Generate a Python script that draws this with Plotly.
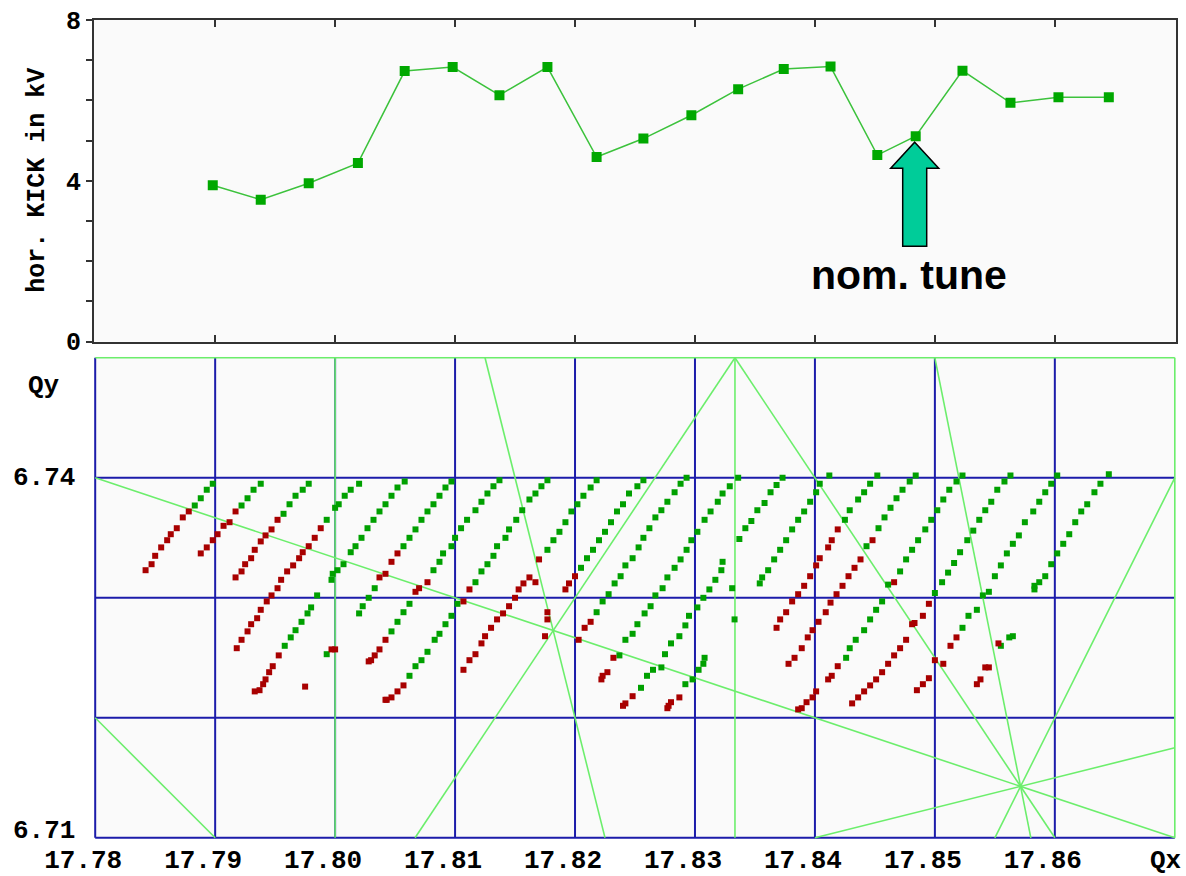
import plotly.graph_objects as go

# ---------------- top panel: horizontal kick per nominal Qx ----------------
kick_qx = [17.7898, 17.7938, 17.7978, 17.8019, 17.8058, 17.8098, 17.8137, 17.8177, 17.8218, 17.8257,
           17.8297, 17.8336, 17.8374, 17.8413, 17.8452, 17.8484, 17.8523, 17.8563, 17.8603, 17.8645]
kick_kv = [3.89, 3.53, 3.94, 4.44, 6.73, 6.83, 6.13, 6.83, 4.59, 5.05,
           5.63, 6.28, 6.78, 6.84, 4.64, 5.11, 6.74, 5.94, 6.08, 6.08]
nominal_index = 15

# ---------------- bottom panel: measured tunes (green = kept, red = lost) ----------------
green_qx = [
    17.7898, 17.7893, 17.7888, 17.7883,
    17.7938, 17.7932, 17.7927, 17.7922,
    17.7978, 17.7973, 17.7967, 17.7962, 17.7957,
    17.8020, 17.8013, 17.8008, 17.8003, 17.8000, 17.7993,
    17.8058, 17.8052, 17.8047, 17.8042, 17.8037, 17.8032, 17.8027, 17.8022, 17.8017, 17.8013, 17.8007,
    17.8002, 17.7998, 17.7997, 17.7985, 17.7980, 17.7977, 17.7972, 17.7967, 17.7963, 17.7958,
    17.8097, 17.8092, 17.8087, 17.8082, 17.8077, 17.8072, 17.8067, 17.8062, 17.8057,
    17.8033, 17.8028, 17.8023, 17.8020, 17.7993,
    17.8137, 17.8132, 17.8127, 17.8122, 17.8117, 17.8110, 17.8105, 17.8100, 17.8097, 17.8090, 17.8087, 17.8082,
    17.8062, 17.8057, 17.8052, 17.8047,
    17.8177, 17.8172, 17.8167, 17.8162, 17.8156, 17.8151, 17.8145, 17.8142, 17.8135, 17.8132, 17.8127, 17.8122, 17.8117,
    17.8102, 17.8097, 17.8092, 17.8087, 17.8083, 17.8077, 17.8072, 17.8067, 17.8062,
    17.8218, 17.8213, 17.8207, 17.8202, 17.8197, 17.8192, 17.8187, 17.8182, 17.8177,
    17.8257, 17.8252, 17.8245, 17.8240, 17.8235, 17.8230, 17.8225, 17.8220, 17.8215, 17.8210, 17.8205,
    17.8293, 17.8288, 17.8283, 17.8277, 17.8272, 17.8267, 17.8262, 17.8257, 17.8253, 17.8248, 17.8242, 17.8238,
    17.8233, 17.8228, 17.8223, 17.8218,
    17.8336, 17.8329, 17.8323, 17.8319, 17.8313, 17.8308, 17.8302, 17.8297, 17.8293, 17.8288, 17.8283, 17.8277,
    17.8273, 17.8267, 17.8263, 17.8258, 17.8252, 17.8248, 17.8242, 17.8237,
    17.8373, 17.8368, 17.8363, 17.8358, 17.8352, 17.8347, 17.8342, 17.8337, 17.8323, 17.8322, 17.8317, 17.8312,
    17.8307, 17.8302, 17.8295, 17.8292, 17.8287, 17.8280, 17.8275, 17.8272, 17.8265, 17.8260, 17.8255,
    17.8412, 17.8404, 17.8401, 17.8396, 17.8391, 17.8386, 17.8381, 17.8376, 17.8371, 17.8366, 17.8361, 17.8356,
    17.8354, 17.8331, 17.8333, 17.8308, 17.8307, 17.8303, 17.8298, 17.8292,
    17.8452, 17.8446, 17.8441, 17.8436, 17.8429, 17.8425,
    17.8484, 17.8479, 17.8473, 17.8468, 17.8463, 17.8458, 17.8453, 17.8443,
    17.8523, 17.8518, 17.8512, 17.8507, 17.8502, 17.8497, 17.8492, 17.8486, 17.8481, 17.8476, 17.8471,
    17.8461, 17.8456, 17.8451, 17.8446, 17.8441, 17.8434, 17.8429, 17.8426,
    17.8563, 17.8558, 17.8552, 17.8547, 17.8542, 17.8537, 17.8532, 17.8527, 17.8521, 17.8516, 17.8511, 17.8506, 17.8500,
    17.8602, 17.8597, 17.8592, 17.8587, 17.8582, 17.8575, 17.8570, 17.8565, 17.8560, 17.8555, 17.8550, 17.8545,
    17.8540, 17.8535, 17.8528, 17.8523,
    17.8645, 17.8638, 17.8633, 17.8627, 17.8622, 17.8617, 17.8612, 17.8607, 17.8602, 17.8597, 17.8592, 17.8587,
    17.8583, 17.8583, 17.8565, 17.8562, 17.8555,
]
green_qy = [
    6.7395, 6.7390, 6.7383, 6.7377,
    6.7395, 6.7390, 6.7383, 6.7377,
    6.7395, 6.7390, 6.7385, 6.7378, 6.7370,
    6.7395, 6.7390, 6.7385, 6.7378, 6.7375, 6.7365,
    6.7397, 6.7392, 6.7385, 6.7378, 6.7372, 6.7365, 6.7358, 6.7350, 6.7343, 6.7338, 6.7328,
    6.7323, 6.7320, 6.7315, 6.7302, 6.7292, 6.7287, 6.7280, 6.7273, 6.7267, 6.7260,
    6.7397, 6.7392, 6.7385, 6.7378, 6.7372, 6.7365, 6.7357, 6.7350, 6.7343,
    6.7308, 6.7300, 6.7293, 6.7287, 6.7253,
    6.7398, 6.7393, 6.7387, 6.7380, 6.7373, 6.7365, 6.7358, 6.7350, 6.7343, 6.7337, 6.7330, 6.7323,
    6.7295, 6.7288, 6.7280, 6.7272,
    6.7398, 6.7393, 6.7387, 6.7382, 6.7373, 6.7365, 6.7357, 6.7350, 6.7343, 6.7335, 6.7328, 6.7322, 6.7313,
    6.7295, 6.7285, 6.7278, 6.7270, 6.7265, 6.7255, 6.7248, 6.7243, 6.7235,
    6.7398, 6.7392, 6.7385, 6.7378, 6.7372, 6.7363, 6.7355, 6.7348, 6.7340,
    6.7398, 6.7393, 6.7387, 6.7378, 6.7372, 6.7363, 6.7355, 6.7348, 6.7340, 6.7333, 6.7325,
    6.7400, 6.7395, 6.7388, 6.7380, 6.7373, 6.7367, 6.7358, 6.7350, 6.7342, 6.7333, 6.7327, 6.7318,
    6.7312, 6.7303, 6.7297, 6.7288,
    6.7400, 6.7393, 6.7387, 6.7380, 6.7372, 6.7365, 6.7355, 6.7348, 6.7340, 6.7332, 6.7325, 6.7317,
    6.7308, 6.7302, 6.7293, 6.7287, 6.7278, 6.7270, 6.7265, 6.7252,
    6.7400, 6.7394, 6.7388, 6.7379, 6.7373, 6.7364, 6.7358, 6.7349, 6.7330, 6.7323, 6.7315, 6.7307,
    6.7300, 6.7292, 6.7285, 6.7277, 6.7268, 6.7262, 6.7253, 6.7242, 6.7240, 6.7235, 6.7225,
    6.7402, 6.7395, 6.7388, 6.7380, 6.7372, 6.7365, 6.7357, 6.7348, 6.7340, 6.7332, 6.7323, 6.7317,
    6.7312, 6.7308, 6.7282, 6.7250, 6.7245, 6.7240, 6.7232, 6.7228,
    6.7402, 6.7395, 6.7388, 6.7382, 6.7373, 6.7365,
    6.7402, 6.7397, 6.7390, 6.7383, 6.7375, 6.7367, 6.7358, 6.7343,
    6.7402, 6.7397, 6.7390, 6.7382, 6.7373, 6.7365, 6.7357, 6.7348, 6.7340, 6.7332, 6.7322,
    6.7311, 6.7297, 6.7290, 6.7282, 6.7273, 6.7265, 6.7258, 6.7250,
    6.7402, 6.7397, 6.7390, 6.7380, 6.7373, 6.7365, 6.7356, 6.7348, 6.7338, 6.7329, 6.7321, 6.7313, 6.7304,
    6.7402, 6.7395, 6.7388, 6.7380, 6.7372, 6.7363, 6.7352, 6.7345, 6.7337, 6.7327, 6.7318, 6.7305,
    6.7302, 6.7290, 6.7285, 6.7275,
    6.7403, 6.7395, 6.7388, 6.7378, 6.7372, 6.7363, 6.7353, 6.7345, 6.7337, 6.7328, 6.7318, 6.7313,
    6.7310, 6.7307, 6.7268, 6.7267, 6.7260,
]
red_qx = [
    17.7878, 17.7873, 17.7868, 17.7863, 17.7860, 17.7855, 17.7850, 17.7847, 17.7842,
    17.7917, 17.7912, 17.7907, 17.7902, 17.7898, 17.7893, 17.7888,
    17.7952, 17.7947, 17.7942, 17.7938, 17.7933, 17.7930, 17.7925, 17.7922, 17.7917,
    17.7988, 17.7983, 17.7978, 17.7973, 17.7970, 17.7965, 17.7960, 17.7955, 17.7952, 17.7947, 17.7943,
    17.7938, 17.7935, 17.7930, 17.7927, 17.7922, 17.7918,
    17.7953, 17.7948, 17.7945, 17.7942, 17.7940, 17.7937, 17.7933,
    17.8052, 17.8047, 17.8042, 17.8037, 17.8000, 17.7997, 17.7975,
    17.8077, 17.8070, 17.8067, 17.8042, 17.8037, 17.8033, 17.8030, 17.8028,
    17.8112, 17.8107, 17.8057, 17.8052, 17.8047, 17.8043, 17.8042,
    17.8170, 17.8167, 17.8162, 17.8157, 17.8153, 17.8150, 17.8145, 17.8140, 17.8135, 17.8130, 17.8125,
    17.8122, 17.8117, 17.8112, 17.8107,
    17.8200, 17.8195, 17.8192, 17.8177, 17.8177, 17.8175,
    17.8213, 17.8208, 17.8203,
    17.8232, 17.8227, 17.8223, 17.8222,
    17.8248, 17.8242, 17.8240,
    17.8287, 17.8280, 17.8278, 17.8277,
    17.8419, 17.8414, 17.8411, 17.8404, 17.8401, 17.8396, 17.8391, 17.8386, 17.8381, 17.8376, 17.8371, 17.8368,
    17.8448, 17.8438, 17.8433, 17.8428, 17.8423, 17.8418, 17.8413, 17.8409, 17.8403, 17.8398, 17.8394, 17.8389,
    17.8383, 17.8378,
    17.8466, 17.8419, 17.8414, 17.8411, 17.8401, 17.8398, 17.8393, 17.8389, 17.8386,
    17.8495, 17.8490, 17.8483, 17.8481, 17.8476, 17.8471, 17.8466, 17.8461, 17.8456, 17.8451, 17.8446, 17.8441,
    17.8436, 17.8431,
    17.8518, 17.8513, 17.8507, 17.8500, 17.8495, 17.8490, 17.8485,
    17.8553, 17.8545, 17.8542, 17.8538, 17.8535,
]
red_qy = [
    6.7372, 6.7367, 6.7358, 6.7353, 6.7348, 6.7342, 6.7335, 6.7328, 6.7323,
    6.7372, 6.7363, 6.7360, 6.7353, 6.7348, 6.7342, 6.7337,
    6.7365, 6.7357, 6.7352, 6.7347, 6.7340, 6.7333, 6.7328, 6.7322, 6.7317,
    6.7358, 6.7350, 6.7343, 6.7338, 6.7333, 6.7327, 6.7322, 6.7315, 6.7308, 6.7302, 6.7297,
    6.7290, 6.7283, 6.7278, 6.7272, 6.7265, 6.7258,
    6.7252, 6.7243, 6.7238, 6.7232, 6.7228, 6.7223, 6.7222,
    6.7337, 6.7330, 6.7320, 6.7317, 6.7257, 6.7257, 6.7226,
    6.7313, 6.7308, 6.7305, 6.7265, 6.7257, 6.7252, 6.7248, 6.7247,
    6.7307, 6.7297, 6.7227, 6.7222, 6.7217, 6.7215, 6.7215,
    6.7332, 6.7313, 6.7317, 6.7312, 6.7307, 6.7300, 6.7293, 6.7287, 6.7282, 6.7275, 6.7268,
    6.7262, 6.7253, 6.7248, 6.7240,
    6.7318, 6.7312, 6.7307, 6.7288, 6.7282, 6.7268,
    6.7280, 6.7275, 6.7265,
    6.7250, 6.7238, 6.7235, 6.7232,
    6.7218, 6.7212, 6.7210,
    6.7217, 6.7213, 6.7210, 6.7208,
    6.7357, 6.7348, 6.7342, 6.7333, 6.7327, 6.7318, 6.7310, 6.7303, 6.7297, 6.7288, 6.7282, 6.7275,
    6.7348, 6.7332, 6.7325, 6.7318, 6.7310, 6.7303, 6.7296, 6.7288, 6.7280, 6.7273, 6.7267, 6.7258,
    6.7250, 6.7245,
    6.7313, 6.7243, 6.7235, 6.7232, 6.7222, 6.7217, 6.7213, 6.7208, 6.7207,
    6.7295, 6.7285, 6.7279, 6.7278, 6.7265, 6.7258, 6.7252, 6.7245, 6.7238, 6.7232, 6.7227, 6.7222,
    6.7217, 6.7212,
    6.7267, 6.7260, 6.7245, 6.7248, 6.7233, 6.7228, 6.7223,
    6.7262, 6.7242, 6.7242, 6.7232, 6.7228,
]

# resonance lines a*Qx + b*Qy = c
res_a = [0, 5, 6, 1, 1, 1, 4, 3, 3, 5, 2, -1]
res_b = [4, 0, 0, 0, 3, 1, 1, -2, 2, 1, -1, 4]
res_c = [27, 89, 107, 17.87, 38, 24.5, 78, 40, 67, 96, 29, 9]

# grid / axes
grid_qx = [17.78, 17.79, 17.80, 17.81, 17.82, 17.83, 17.84, 17.85, 17.86]
grid_qy = [6.71, 6.72, 6.73, 6.74]
qx_labels = ["17.78", "17.79", "17.80", "17.81", "17.82", "17.83", "17.84", "17.85", "17.86"]
QX_MIN, QX_MAX = 17.78, 17.87
QY_MIN, QY_MAX = 6.71, 6.75
kick_ticks = [0, 1, 2, 3, 4, 5, 6, 7, 8]
kick_labels = ["0", "", "", "", "4", "", "", "", "8"]

PAD = 0.0001
XR = [QX_MIN - PAD, QX_MAX + PAD]
YR2 = [QY_MIN - PAD, QY_MAX + PAD]

BLUE = "#1c1caa"
LGREEN = "#6cee6c"
MONO = "Liberation Mono"


def clip_line(a, b, c):
    pts = []
    if b != 0:
        for x in (QX_MIN, QX_MAX):
            y = (c - a * x) / b
            if QY_MIN - 1e-9 <= y <= QY_MAX + 1e-9:
                pts.append((x, y))
    if a != 0:
        for y in (QY_MIN, QY_MAX):
            x = (c - b * y) / a
            if QX_MIN - 1e-9 <= x <= QX_MAX + 1e-9:
                pts.append((x, y))
    pts = sorted(set((round(p[0], 9), round(p[1], 9)) for p in pts))
    if len(pts) < 2:
        return None
    return pts[0], pts[-1]


fig = go.Figure()

# blue grid
gx, gy = [], []
for q in grid_qx:
    gx += [q, q, None]
    gy += [QY_MIN, QY_MAX, None]
for q in grid_qy:
    gx += [QX_MIN, QX_MAX, None]
    gy += [q, q, None]
fig.add_trace(go.Scatter(x=gx, y=gy, mode="lines", line=dict(color=BLUE, width=2),
                         xaxis="x2", yaxis="y2", hoverinfo="skip", showlegend=False))

# resonance lines
rx, ry = [], []
for a, b, c in zip(res_a, res_b, res_c):
    seg = clip_line(a, b, c)
    if seg:
        rx += [seg[0][0], seg[1][0], None]
        ry += [seg[0][1], seg[1][1], None]
fig.add_trace(go.Scatter(x=rx, y=ry, mode="lines", line=dict(color=LGREEN, width=1.6),
                         xaxis="x2", yaxis="y2", hoverinfo="skip", showlegend=False))

# tune points
fig.add_trace(go.Scatter(x=green_qx, y=green_qy, mode="markers",
                         marker=dict(symbol="square", size=6, color="#00a000", line=dict(width=0)),
                         xaxis="x2", yaxis="y2", showlegend=False))
fig.add_trace(go.Scatter(x=red_qx, y=red_qy, mode="markers",
                         marker=dict(symbol="square", size=6, color="#a80000", line=dict(width=0)),
                         xaxis="x2", yaxis="y2", showlegend=False))

# kick curve
fig.add_trace(go.Scatter(x=kick_qx, y=kick_kv, mode="lines+markers",
                         line=dict(color="#3cc23c", width=1.5),
                         marker=dict(symbol="square", size=10, color="#00a800", line=dict(width=0)),
                         xaxis="x", yaxis="y", showlegend=False))

nom_x = kick_qx[nominal_index]
nom_y = kick_kv[nominal_index]
LBL = dict(size=26, family=MONO, weight="bold")

fig.update_layout(
    width=1186, height=876, autosize=False,
    margin=dict(l=94, r=10, t=20, b=37),
    paper_bgcolor="#ffffff", plot_bgcolor="#fafafa",
    font=dict(family=MONO, color="#000000", size=26),
    xaxis=dict(domain=[0, 1], range=XR, anchor="y", tickvals=grid_qx[1:], ticks="inside", ticklen=7,
               tickwidth=1.5, tickcolor="#333333", showticklabels=False, showline=True,
               linecolor="#333333", linewidth=2, mirror="ticks", showgrid=False, zeroline=False,
               automargin=False),
    yaxis=dict(domain=[0.6074, 1.0], range=[0, 8], anchor="x", tickvals=kick_ticks, ticktext=kick_labels,
               ticks="outside", ticklen=6, tickwidth=1.5, tickcolor="#333333", showline=True,
               linecolor="#333333", linewidth=2, mirror=True, showgrid=False, zeroline=False,
               tickfont=dict(size=25, family=MONO, weight="bold"), ticklabelstandoff=0, automargin=False),
    xaxis2=dict(domain=[0, 1], range=XR, anchor="y2", tickvals=grid_qx, ticktext=qx_labels, ticks="",
                showline=False, showgrid=False, zeroline=False, tickfont=LBL,
                ticklabelshift=-12, ticklabelstandoff=2, automargin=False),
    yaxis2=dict(domain=[0, 0.589], range=YR2, anchor="x2", showticklabels=False, ticks="",
                showline=False, showgrid=False, zeroline=False, automargin=False),
    annotations=[
        dict(text="hor. KICK in kV", xref="paper", yref="y", x=0, y=4, xanchor="center", yanchor="middle",
             xshift=-56, textangle=-90, showarrow=False, font=dict(size=25, family=MONO, weight="bold")),
        dict(text="Qy", xref="paper", yref="y2", x=0, y=QY_MAX, xanchor="center", yanchor="middle",
             xshift=-50, yshift=-28, showarrow=False, font=LBL),
        dict(text="6.74", xref="paper", yref="y2", x=0, y=6.74, xanchor="right", yanchor="middle", xshift=-17,
             showarrow=False, font=LBL),
        dict(text="6.71", xref="paper", yref="y2", x=0, y=6.71, xanchor="right", yanchor="middle", xshift=-17,
             yshift=7, showarrow=False, font=LBL),
        dict(text="Qx", xref="x2", yref="paper", x=QX_MAX, y=0, xanchor="center", xshift=-9, yshift=-22,
             yanchor="middle", showarrow=False, font=LBL),
        dict(text="<b>nom. tune</b>", xref="x", yref="y", x=nom_x, y=nom_y, xanchor="center",
             yanchor="middle", xshift=-7, yshift=-139,
             showarrow=False, font=dict(size=41, family="Liberation Sans", color="#000000")),
    ],
    shapes=[
        dict(type="path", xref="x", yref="y", xsizemode="pixel", ysizemode="pixel",
             xanchor=nom_x, yanchor=nom_y,
             path="M -1,-6 L 23,-32 L 11,-32 L 11,-110 L -13,-110 L -13,-32 L -25,-32 Z",
             fillcolor="#00cc99", line=dict(color="#000000", width=1.5), layer="above"),
    ],
)

fig.write_html("out.html")
